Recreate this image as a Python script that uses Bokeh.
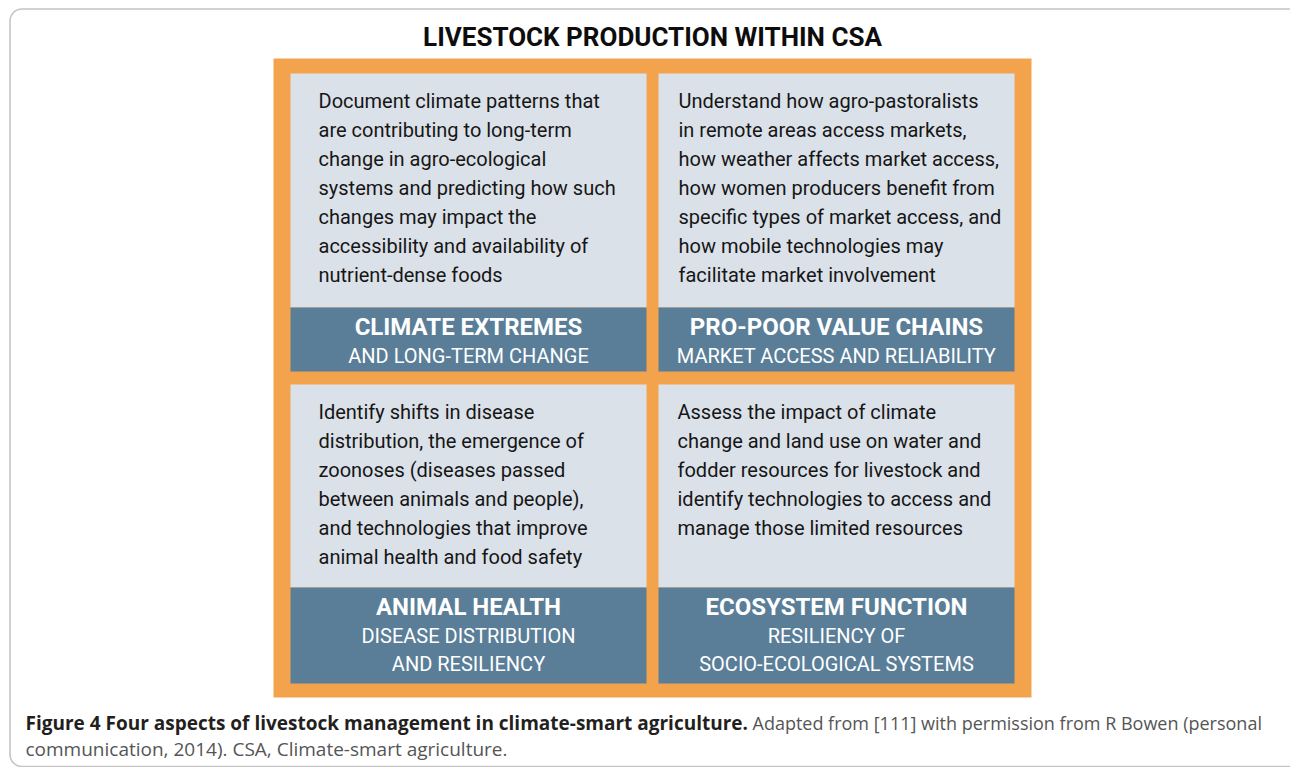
from bokeh.plotting import figure
from bokeh.models import Range1d, ColumnDataSource, BoxAnnotation
from bokeh.core.properties import value
from bokeh.embed import file_html
from bokeh.resources import INLINE

# ---------------- data (texts) ----------------
title_text = "LIVESTOCK PRODUCTION WITHIN CSA"

panel_titles = ["CLIMATE EXTREMES", "PRO-POOR VALUE CHAINS",
                "ANIMAL HEALTH", "ECOSYSTEM FUNCTION"]

panel_subtitles = [
    ["AND LONG-TERM CHANGE"],
    ["MARKET ACCESS AND RELIABILITY"],
    ["DISEASE DISTRIBUTION", "AND RESILIENCY"],
    ["RESILIENCY OF", "SOCIO-ECOLOGICAL SYSTEMS"],
]

panel_bodies = [
    ["Document climate patterns that",
     "are contributing to long-term",
     "change in agro-ecological",
     "systems and predicting how such",
     "changes may impact the",
     "accessibility and availability of",
     "nutrient-dense foods"],
    ["Understand how agro-pastoralists",
     "in remote areas access markets,",
     "how weather affects market access,",
     "how women producers benefit from",
     "specific types of market access, and",
     "how mobile technologies may",
     "facilitate market involvement"],
    ["Identify shifts in disease",
     "distribution, the emergence of",
     "zoonoses (diseases passed",
     "between animals and people),",
     "and technologies that improve",
     "animal health and food safety"],
    ["Assess the impact of climate",
     "change and land use on water and",
     "fodder resources for livestock and",
     "identify technologies to access and",
     "manage those limited resources"],
]

caption_bold = "Figure 4 Four aspects of livestock management in climate-smart agriculture."
caption_rest = "Adapted from [111] with permission from R Bowen (personal"
caption_line2 = "communication, 2014). CSA, Climate-smart agriculture."

# ---------------- layout / style ----------------
W, H = 1290, 767
ORANGE = "#F2A34B"
LIGHT = "#DBE1E9"
BAND = "#5A7E98"
BOXFONT = "Roboto"
CAPFONT = "Open Sans"

col_left = [290, 658]
body_pad = [28, 20, 28, 19]
panel_w = 356
rows = [  # (light_top, band_top, band_bottom)
    (73, 307, 371),
    (384, 587, 683),
]
line_gap = 29

p = figure(width=W, height=H, output_backend="svg", toolbar_location=None,
           x_range=Range1d(0, W), y_range=Range1d(H, 0),
           min_border=0)
p.axis.visible = False
p.grid.visible = False
p.outline_line_color = None
p.background_fill_color = "white"
p.border_fill_color = "white"

# outer rounded frame
frame = BoxAnnotation(left=9.5, right=1302, top=8.5, bottom=766,
                      fill_alpha=0, line_color="#3a3a3a", line_width=1.6,
                      border_radius=12)
p.add_layout(frame)

# orange background box
p.quad(left=[273], right=[1031], top=[58], bottom=[697],
       fill_color=ORANGE, line_color=None)

# panels
lq = dict(left=[], right=[], top=[], bottom=[])
bq = dict(left=[], right=[], top=[], bottom=[])
body = dict(x=[], y=[], t=[])
ttl = dict(x=[], y=[], t=[])
sub = dict(x=[], y=[], t=[])
for i in range(4):
    r, c = divmod(i, 2)
    lt, bt, bb = rows[r]
    x0 = col_left[c]
    lq["left"].append(x0); lq["right"].append(x0 + panel_w)
    lq["top"].append(lt); lq["bottom"].append(bt)
    bq["left"].append(x0); bq["right"].append(x0 + panel_w)
    bq["top"].append(bt); bq["bottom"].append(bb)
    for k, line in enumerate(panel_bodies[i]):
        body["x"].append(x0 + body_pad[i])
        body["y"].append(lt + 27.5 + k * line_gap)
        body["t"].append(line)
    cx = x0 + panel_w / 2
    ttl["x"].append(cx); ttl["y"].append(bt + 19); ttl["t"].append(panel_titles[i])
    for k, line in enumerate(panel_subtitles[i]):
        sub["x"].append(cx); sub["y"].append(bt + 48 + k * 28.5); sub["t"].append(line)

p.quad(source=ColumnDataSource(lq), left="left", right="right", top="top",
       bottom="bottom", fill_color=LIGHT, line_color=None)
p.quad(source=ColumnDataSource(bq), left="left", right="right", top="top",
       bottom="bottom", fill_color=BAND, line_color=None)

p.text(source=ColumnDataSource(body), x="x", y="y", text="t",
       text_font=value(BOXFONT), text_font_size="20px", text_color="#161616",
       text_baseline="middle", text_align="left")
p.text(source=ColumnDataSource(ttl), x="x", y="y", text="t",
       text_font=value(BOXFONT), text_font_size="24px", text_font_style="bold",
       text_color="white", text_baseline="middle", text_align="center")
p.text(source=ColumnDataSource(sub), x="x", y="y", text="t",
       text_font=value(BOXFONT), text_font_size="20px", text_color="white",
       text_baseline="middle", text_align="center")

# main title
p.text(x=[652], y=[36], text=[title_text], text_font=value(BOXFONT),
       text_font_size="26px", text_font_style="bold", text_color="#0d0d0d",
       text_baseline="middle", text_align="center")

# caption
p.text(x=[25], y=[722], text=[caption_bold], text_font=value(CAPFONT),
       text_font_size="19px", text_font_style="bold", text_color="#231F20",
       text_baseline="middle", text_align="left")
p.text(x=[752], y=[722], text=[caption_rest], text_font=value(CAPFONT),
       text_font_size="18px", text_color="#555555",
       text_baseline="middle", text_align="left")
p.text(x=[25], y=[748], text=[caption_line2], text_font=value(CAPFONT),
       text_font_size="19px", text_color="#555555",
       text_baseline="middle", text_align="left")

open("out.html", "w").write(file_html(p, INLINE))
